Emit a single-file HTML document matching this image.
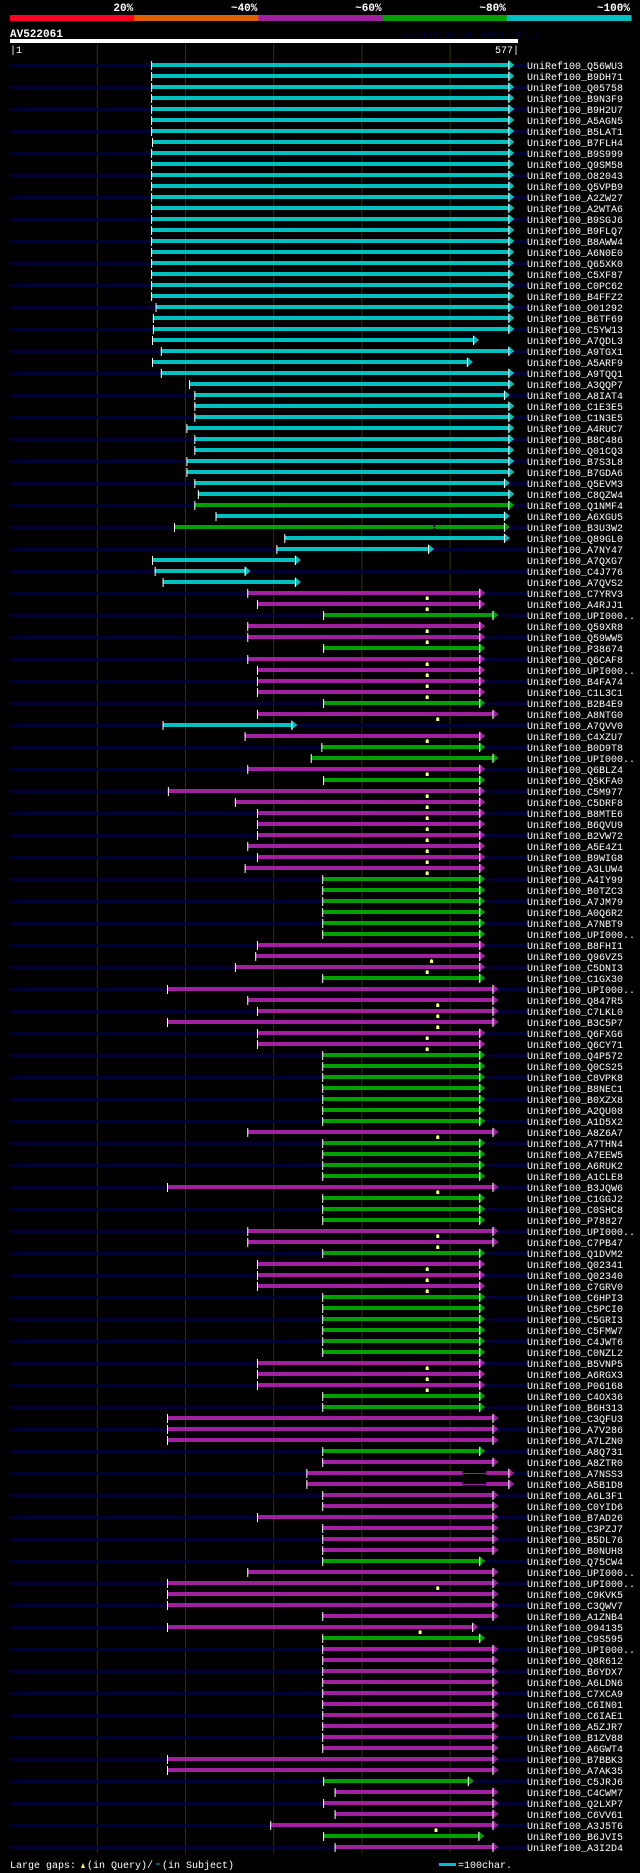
<!DOCTYPE html>
<html><head><meta charset="utf-8"><style>
html,body{margin:0;padding:0;background:#000;}
body{width:640px;height:1873px;overflow:hidden;}
svg{display:block;}
text{font-family:"Liberation Mono","DejaVu Sans Mono",monospace;}
</style></head><body>
<svg id="chart" width="640" height="1873" viewBox="0 0 640 1873" xmlns="http://www.w3.org/2000/svg">
<g id="legend"></g>
<text x="10" y="37" fill="#fff" font-size="11" font-weight="bold">AV522061</text>
<text x="402" y="38" fill="#000040" font-size="10">AlignView.pm Beta rel.7</text>
<rect x="10" y="39" width="508" height="4" fill="#fff"/>
<text x="10" y="53" fill="#fff" font-size="10">|1</text>
<text x="519" y="53" fill="#fff" font-size="10" text-anchor="end">577|</text>
<g id="grid"></g>
<g id="rows"></g>
<g>
<text x="10" y="1868" fill="#fff" font-size="10">Large gaps:</text>
<path d="M81 1868 L83 1863 L85 1868 Z" fill="#ffff80"/>
<text x="87" y="1868" fill="#fff" font-size="10">(in Query)/</text>
<line x1="156" y1="1864" x2="160" y2="1864" stroke="#00c0c0" stroke-width="1"/>
<text x="162" y="1868" fill="#fff" font-size="10">(in Subject)</text>
<line x1="438" y1="1860" x2="438" y2="1868" stroke="#000040"/>
<rect x="439" y="1863" width="17" height="3" fill="#00c0c0"/>
<text x="458" y="1868" fill="#fff" font-size="10">=100char.</text>
</g>
</svg>
<script>
const legendLabels=["20%","~40%","~60%","~80%","~100%"];
const legendColors=["#ff0022","#e06000","#a020a0","#00a000","#00c0c0"];
const labels=["Q56WU3","B9DH71","Q05758","B9N3F9","B9H2U7","A5AGN5","B5LAT1","B7FLH4","B9S999","Q9SM58","O82043","Q5VPB9","A2ZW27","A2WTA6","B9SGJ6","B9FLQ7","B8AWW4","A6N0E0","Q65XK0","C5XF87","C0PC62","B4FFZ2","O01292","B6TF69","C5YW13",
"A7QDL3","A9TGX1","A5ARF9","A9TQQ1","A3QQP7","A8IAT4","C1E3E5","C1N3E5","A4RUC7","B8C486","Q01CQ3","B7S3L8","B7GDA6","Q5EVM3","C8QZW4","Q1NMF4","A6XGU5","B3U3W2","Q89GL0","A7NY47","A7QXG7","C4J776","A7QVS2",
"C7YRV3","A4RJJ1","UPI000..","Q59XR8","Q59WW5","P38674","Q6CAF8","UPI000..","B4FA74","C1L3C1","B2B4E9","A8NTG0","A7QVV0","C4XZU7","B0D9T8","UPI000..","Q6BLZ4","Q5KFA0","C5M977","C5DRF8","B8MTE6","B6QVU9","B2VW72",
"A5E4Z1","B9WIG8","A3LUW4","A4IY99","B0TZC3","A7JM79","A0Q6R2","A7NBT9","UPI000..","B8FHI1","Q96VZ5","C5DNI3","C1GX30","UPI000..","Q847R5","C7LKL0","B3C5P7","Q6FXG6","Q6CY71",
"Q4P572","Q0CS25","C8VPK8","B8NEC1","B0XZX8","A2QU08","A1D5X2","A8Z6A7","A7THN4","A7EEW5","A6RUK2","A1CLE8","B3JQW6","C1GGJ2","C0SHC8","P78827","UPI000..","C7PB47","Q1DVM2","Q02341",
"Q02340","C7GRV0","C6HPI3","C5PCI0","C5GRI3","C5FMW7","C4JWT6","C0NZL2","B5VNP5","A6RGX3","P06168","C4OX36","B6H313","C3QFU3","A7V286","A7LZN0","A8Q731","A8ZTR0","A7NSS3","A5B1D8",
"A6L3F1","C0YID6","B7AD26","C3PZJ7","B5DL76","B0NUH8","Q75CW4","UPI000..","UPI000..","C9KVK5","C3QWV7","A1ZNB4","O94135","C9S595","UPI000..","Q8R612","B6YDX7","A6LDN6","C7XCA9","C6IN01",
"C6IAE1","A5ZJR7","B1ZV88","A6GWT4","B7BBK3","A7AK35","C5JRJ6","C4CWM7","Q2LXP7","C6VV61","A3J5T6","B6JVI5","A3I2D4"];
// color class per row: C cyan, G green, P purple
const colors="CCCCCCCCCCCCCCCCCCCCCCCCC"+"CCCCCCCCCCCCCCCGCGCCCCC"+"PPGPPGPPPPGPCPGGPGPPPPP"+
"PPPGGGGGGPPPGPPPPPP"+"GGGGGGGPGGGGPGGGPPGP"+"PPGGGGGGPPPGGPPPGPPP"+"PPPPPPGPPPPPPGPPPPPP"+"PPPPPPGPPPPGP";
const starts=[161,161,161,161,161,161,161,162,161,161,161,161,161,161,161,161,161,161,161,161,161,161,166,163,163,
162,172,162,172,204,210,210,210,201,210,210,201,201,210,214,210,234,187,312,303,162,165,174,
270,281,356,270,270,356,270,281,281,281,356,281,174,267,354,342,270,356,180,256,281,281,281,
270,281,267,355,355,355,355,355,355,281,279,256,355,179,270,281,179,281,281,
355,355,355,355,355,355,355,270,355,355,355,355,179,355,355,355,270,270,355,281,
281,281,355,355,355,355,355,355,281,281,281,355,355,179,179,179,355,355,337,337,
355,355,281,355,355,355,355,270,179,179,179,355,179,355,355,355,355,355,355,355,
355,355,355,355,179,179,356,369,356,369,296,356,369];
const ends=[566,566,566,566,566,566,566,566,566,566,566,566,566,566,566,566,566,566,566,566,566,566,566,566,566,
526,566,519,566,566,561,566,566,566,566,566,566,566,561,566,566,561,561,561,475,324,267,324,
533,533,548,533,533,533,533,533,533,533,533,548,320,533,533,548,533,533,533,533,533,533,533,
533,533,533,533,533,533,533,533,533,533,533,533,533,548,548,548,548,533,533,
533,533,533,533,533,533,533,548,533,533,533,533,548,533,533,533,548,548,533,533,
533,533,533,533,533,533,533,533,533,533,533,533,533,548,548,548,533,548,566,566,
548,548,548,548,548,548,533,548,548,548,548,548,525,533,548,548,548,548,548,548,
548,548,548,548,548,548,520,548,548,548,548,532,548];
// query gap marker positions (0 = none)
const gaps=[0,0,0,0,0,0,0,0,0,0,0,0,0,0,0,0,0,0,0,0,0,0,0,0,0,
0,0,0,0,0,0,0,0,0,0,0,0,0,0,0,0,0,0,0,0,0,0,0,
474,474,0,474,474,0,474,474,474,474,0,486,0,474,0,0,474,0,474,474,474,474,474,
474,474,474,0,0,0,0,0,0,0,479,474,0,0,486,486,486,474,474,
0,0,0,0,0,0,0,486,0,0,0,0,486,0,0,0,486,486,0,474,
474,474,0,0,0,0,0,0,474,474,474,0,0,0,0,0,0,0,0,0,
0,0,0,0,0,0,0,0,486,0,0,0,466,0,0,0,0,0,0,0,
0,0,0,0,0,0,0,0,0,0,484,0,0];
// subject gaps [rowIndex, from, to]
const subjGaps=[[42,481,483],[128,514,541],[129,514,541]];

const NS="http://www.w3.org/2000/svg";
const X0=10, PX=0.882;
function xs(p){return X0+(p-1)*PX;}
function ry(i){return 65+11*i;}
function mk(tag,attrs,parent){const e=document.createElementNS(NS,tag);for(const k in attrs)e.setAttribute(k,attrs[k]);parent.appendChild(e);return e;}
const colMap={C:"#00c0c0",G:"#00a000",P:"#a020a0"};

const lg=document.getElementById('legend');
const segW=621/5;
legendLabels.forEach((t,i)=>{
  const r=mk('rect',{x:10+i*segW,y:15,width:segW+0.5,height:6,fill:legendColors[i]},lg);
  
  
  const tx=mk('text',{x:10+(i+1)*segW-1,y:11,fill:'#fff','font-size':'11','font-weight':'bold','text-anchor':'end'},lg);
  tx.textContent=t;
  
  
});

const gg=document.getElementById('grid');
for(let k=1;k<=5;k++){
  const l=mk('line',{x1:xs(100*k),x2:xs(100*k),y1:44,y2:1853,stroke:'#333300','stroke-width':1},gg);
  
  
}

const rg=document.getElementById('rows');
labels.forEach((lab,i)=>{
  const y=ry(i);
  const g=mk('g',{},rg);
  
  
  if(i%2===0){mk('rect',{x:10,y:y-1,width:517,height:3,fill:'#000033'},g);}
  const c=colMap[colors[i]];
  const x1=xs(starts[i]), x2=xs(ends[i]);
  const bar=mk('rect',{x:x1,y:y-2,width:x2-x1,height:4,fill:c},g);
  
  
  mk('path',{d:`M${x2} ${y-5} L${x2+6} ${y} L${x2} ${y+5} Z`,fill:c},g);
  mk('line',{x1:x1+0.5,x2:x1+0.5,y1:y-4,y2:y+5,stroke:'#fff','stroke-width':1},g);
  mk('line',{x1:x2+0.5,x2:x2+0.5,y1:y-4,y2:y+5,stroke:'#fff','stroke-width':1},g);
  if(gaps[i]){const gx=xs(gaps[i]);mk('path',{d:`M${gx-1.5} ${y+7} L${gx-1.5} ${y+4} L${gx} ${y+3} L${gx+1.5} ${y+4} L${gx+1.5} ${y+7} Z`,fill:'#ffff80'},g);}
  const t=mk('text',{x:527,y:y+4,fill:'#fff','font-size':'10'},g);
  t.textContent='UniRef100_'+lab;
  
  
});
subjGaps.forEach(s=>{
  const y=ry(s[0]);
  const a=xs(s[1]), b=xs(s[2]);
  mk('rect',{x:a,y:y-2,width:b-a,height:4,fill:'#000'},rg);
  mk('rect',{x:a,y:y,width:b-a,height:1,fill:colMap[colors[s[0]]]},rg);
});
</script>
</body></html>
